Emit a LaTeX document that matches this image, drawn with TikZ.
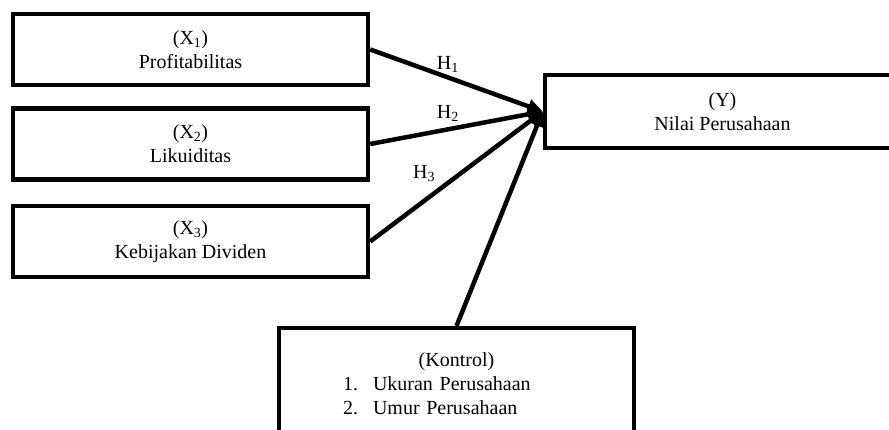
\documentclass[tikz,border=0pt]{standalone}
\usepackage{fontspec}
\setmainfont{Liberation Serif}
\usepackage{tikz}
\usetikzlibrary{arrows.meta, positioning}
\tikzstyle{varbox} = [
    rectangle,
    minimum width=355pt,
    minimum height=71pt,
    text centered,
    align=center,
    draw=black,
    line width=4.5pt,
    font=\fontsize{20}{24}\selectfont
]
\tikzset{
    >={Triangle[length=15pt,width=14pt]}
}
\tikzstyle{arrow} = [
    line width=4.5pt,
    ->,
    draw=black
]
\tikzstyle{hlabel} = [
    font=\fontsize{20}{24}\selectfont,
    inner sep=2pt
]

\begin{document}
\begin{tikzpicture}[x=1pt, y=1pt, node distance=94.5pt]

% Frame
\useasboundingbox (0,0) rectangle (889,-430);
\clip (0,0) rectangle (889,-430);

% Nodes
\node (x1) [varbox] at (190.5,-49.5) {(X\textsubscript{1})\\Profitabilitas};

\node (x2) [varbox, below of=x1] {(X\textsubscript{2})\\Likuiditas};

\node (x3) [varbox, below of=x2, yshift=-3pt] {(X\textsubscript{3})\\Kebijakan Dividen};

\node (y) [varbox, minimum height=73pt] at (722.5,-111.5) {(Y)\\Nilai Perusahaan};

\node (kontrol) [varbox, anchor=north, minimum height=110pt, text width=335pt, align=left] at (456.5,-326)
{\makebox[335pt]{(Kontrol)}\\
\hspace*{54pt}\makebox[30pt][l]{1.}Ukuran Perusahaan\\
\hspace*{54pt}\makebox[30pt][l]{2.}Umur Perusahaan};

% Arrows
\draw [arrow] (x1.east) -- node (h1) [hlabel, pos=0.45, above=1pt] {H\textsubscript{1}} (y.west);

\draw [arrow] (x2.east) -- node (h2) [hlabel, pos=0.45, above=4pt] {H\textsubscript{2}} (y.west);

\draw [arrow] (x3.east) -- node (h3) [hlabel, pos=0.4, above left, yshift=4pt] {H\textsubscript{3}} (y.west);

\draw [arrow] (kontrol.north) -- (y.west);

\end{tikzpicture}
\end{document}
